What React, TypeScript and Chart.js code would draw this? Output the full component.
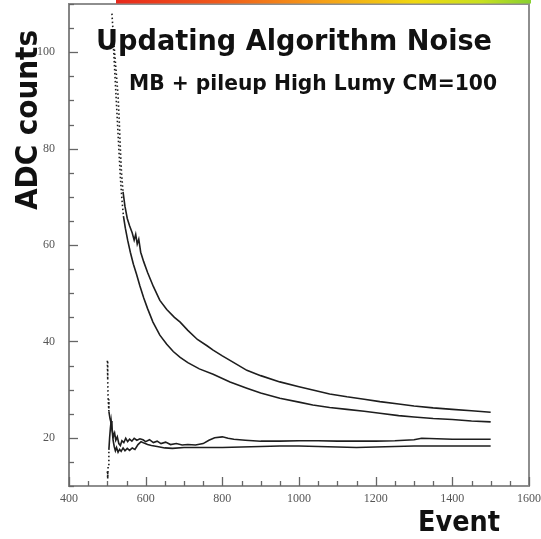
import React, { useEffect, useRef } from "react";
import { Chart, registerables } from "chart.js";

Chart.register(...registerables);

// ---- Data ----
const upperDecayX = [512, 516, 520, 524, 528, 531, 534, 537, 541, 546, 552, 558, 565, 570, 574, 578, 582, 587, 595, 605, 620, 637, 655, 675, 690, 710, 735, 760, 776, 800, 830, 864, 900, 950, 1000, 1036, 1080, 1125, 1170, 1211, 1260, 1300, 1350, 1400, 1450, 1500];
const upperDecayY = [108, 103, 99, 95, 91, 86, 80, 75, 71, 68, 65.5, 64, 62.5, 61, 62.2, 60.2, 61.2, 58.5, 56.5, 54.3, 51.4, 48.5, 46.6, 45, 44, 42.3, 40.4, 39.1, 38.2, 37, 35.6, 34, 32.9, 31.6, 30.6, 29.9, 29.1, 28.5, 28.0, 27.5, 27.0, 26.6, 26.2, 25.9, 25.6, 25.3];

const lowerDecayX = [514, 518, 522, 526, 530, 534, 538, 542, 547, 553, 560, 568, 576, 585, 595, 605, 619, 637, 655, 672, 690, 710, 740, 776, 820, 864, 900, 950, 1000, 1036, 1080, 1125, 1170, 1211, 1260, 1300, 1350, 1400, 1450, 1500];
const lowerDecayY = [104, 98, 92, 86, 80, 74, 69.5, 66, 63.5, 61, 58.5, 56, 54, 51.5, 49, 46.8, 44, 41.3, 39.4, 37.9, 36.7, 35.6, 34.3, 33.2, 31.6, 30.3, 29.3, 28.2, 27.4, 26.8, 26.3, 25.9, 25.5, 25.1, 24.6, 24.3, 24.0, 23.8, 23.5, 23.3];

const upperFlatX = [500, 501, 502, 504, 507, 510, 513, 516, 519, 522, 526, 530, 534, 538, 543, 548, 553, 558, 564, 570, 577, 585, 593, 600, 610, 620, 630, 640, 652, 665, 680, 695, 710, 730, 750, 765, 780, 800, 815, 830, 860, 900, 950, 1000, 1050, 1100, 1150, 1200, 1250, 1300, 1320, 1360, 1400, 1450, 1500];
const upperFlatY = [36, 32, 28, 25.5, 24, 23, 21.5, 20.3, 21, 19.5, 20.2, 18.8, 18.4, 19.4, 19.0, 19.9, 19.2, 19.7, 19.3, 19.9, 19.5, 19.8, 19.6, 19.2, 19.6, 19.0, 19.3, 18.8, 19.1, 18.6, 18.8, 18.5, 18.6, 18.5, 18.8, 19.5, 20.0, 20.2, 19.9, 19.7, 19.5, 19.3, 19.3, 19.4, 19.4, 19.3, 19.3, 19.3, 19.4, 19.6, 19.9, 19.8, 19.7, 19.7, 19.7];

const lowerFlatX = [500, 501, 502, 504, 506, 508, 510, 512, 515, 518, 521, 524, 528, 532, 536, 541, 546, 552, 558, 565, 572, 580, 588, 596, 605, 615, 630, 650, 670, 700, 750, 800, 850, 900, 950, 1000, 1050, 1100, 1150, 1200, 1250, 1300, 1400, 1500];
const lowerFlatY = [13, 11.5, 14, 17.5, 20, 22, 23.5, 22, 19.5, 18.2, 17.3, 18.0, 17.0, 17.6, 17.2, 17.9, 17.3, 17.8, 17.4, 17.9, 17.6, 18.6, 19.2, 18.9, 18.6, 18.4, 18.2, 17.9, 17.8, 18.0, 18.0, 18.0, 18.1, 18.2, 18.3, 18.3, 18.2, 18.1, 18.0, 18.1, 18.2, 18.3, 18.3, 18.3];

const xMajorLabels = [400, 600, 800, 1000, 1200, 1400, 1600];
const yMajorLabels = [20, 40, 60, 80, 100];

const titleText = "Updating Algorithm Noise";
const subtitleText = "MB + pileup High Lumy CM=100";
const yAxisTitle = "ADC counts";
const xAxisTitle = "Event";

const toPoints = (xs: number[], ys: number[]) => xs.map((x, i) => ({ x, y: ys[i] }));

const decorPlugin = {
  id: "decor",
  afterDraw(chart: any) {
    const { ctx, chartArea: a, scales } = chart;
    ctx.save();

    // top and right frame
    ctx.strokeStyle = "#8e8e8e";
    ctx.lineWidth = 2;
    ctx.beginPath();
    ctx.moveTo(a.left, a.top);
    ctx.lineTo(a.right, a.top);
    ctx.lineTo(a.right, a.bottom);
    ctx.stroke();

    // inward tick marks
    ctx.strokeStyle = "#666";
    ctx.lineWidth = 1.3;
    const xs = scales.x;
    xs.ticks.forEach((t: any) => {
      const px = Math.round(xs.getPixelForValue(t.value)) + 0.5;
      const len = xMajorLabels.includes(t.value) ? 9 : 5;
      ctx.beginPath();
      ctx.moveTo(px, a.bottom);
      ctx.lineTo(px, a.bottom - len);
      ctx.stroke();
    });
    const ys = scales.y;
    ys.ticks.forEach((t: any) => {
      const py = Math.round(ys.getPixelForValue(t.value)) + 0.5;
      const len = yMajorLabels.includes(t.value) ? 9 : 5;
      ctx.beginPath();
      ctx.moveTo(a.left, py);
      ctx.lineTo(a.left + len, py);
      ctx.stroke();
    });

    // gradient strip at the top
    const g = ctx.createLinearGradient(116, 0, 531, 0);
    g.addColorStop(0, "#e8281c");
    g.addColorStop(0.25, "#f05a1a");
    g.addColorStop(0.5, "#f5a018");
    g.addColorStop(0.72, "#f0d810");
    g.addColorStop(0.88, "#c8e020");
    g.addColorStop(1, "#88d030");
    ctx.fillStyle = g;
    ctx.fillRect(116, 0, 415, 3.5);

    // texts
    ctx.fillStyle = "#111";
    ctx.textBaseline = "alphabetic";
    ctx.textAlign = "left";
    ctx.font = 'bold 29px "DejaVu Sans"';
    ctx.fillText(titleText, 96, 50, 396);
    ctx.font = 'bold 22px "DejaVu Sans"';
    ctx.fillText(subtitleText, 129, 90, 368);
    ctx.font = 'bold 29px "DejaVu Sans"';
    ctx.fillText(xAxisTitle, 418, 531, 82);
    ctx.save();
    ctx.translate(37, 210);
    ctx.rotate(-Math.PI / 2);
    ctx.font = 'bold 31px "DejaVu Sans"';
    ctx.fillText(yAxisTitle, 0, 0, 180);
    ctx.restore();

    ctx.restore();
  },
};

export default function App() {
  const ref = useRef<HTMLCanvasElement | null>(null);

  useEffect(() => {
    if (!ref.current) return;
    const lineStyle = (dashUntil: number) => ({
      borderColor: "#1e1e1e",
      borderWidth: 1.6,
      pointRadius: 0,
      tension: 0,
      fill: false,
      segment: {
        borderDash: (c: any) => (c.p1.parsed.x <= dashUntil ? [1.5, 2.5] : undefined),
      },
    });
    const chart = new Chart(ref.current, {
      type: "line",
      data: {
        datasets: [
          { label: "upper decay", data: toPoints(upperDecayX, upperDecayY), ...lineStyle(541) },
          { label: "lower decay", data: toPoints(lowerDecayX, lowerDecayY), ...lineStyle(542) },
          { label: "upper flat", data: toPoints(upperFlatX, upperFlatY), ...lineStyle(504) },
          { label: "lower flat", data: toPoints(lowerFlatX, lowerFlatY), ...lineStyle(504) },
        ],
      },
      options: {
        responsive: false,
        animation: false,
        devicePixelRatio: 1,
        layout: { padding: { top: 4, right: 12, left: 0, bottom: 0 } },
        plugins: { legend: { display: false }, tooltip: { enabled: false }, title: { display: false } },
        scales: {
          x: {
            type: "linear",
            min: 400,
            max: 1600,
            grid: { display: false, drawTicks: false },
            border: { display: true, color: "#8e8e8e", width: 2 },
            ticks: {
              stepSize: 50,
              autoSkip: false,
              maxRotation: 0,
              padding: 6,
              color: "#555",
              font: { family: '"Liberation Serif"', size: 12 },
              callback: (v: any) => (xMajorLabels.includes(Number(v)) ? String(v) : ""),
            },
            afterFit: (s: any) => {
              s.height = 53;
              s.paddingLeft = 0;
              s.paddingRight = 0;
            },
          },
          y: {
            type: "linear",
            min: 10,
            max: 110,
            grid: { display: false, drawTicks: false },
            border: { display: true, color: "#858585", width: 2 },
            ticks: {
              stepSize: 5,
              autoSkip: false,
              padding: 14,
              color: "#555",
              font: { family: '"Liberation Serif"', size: 12 },
              callback: (v: any) => (yMajorLabels.includes(Number(v)) ? String(v) : ""),
            },
            afterFit: (s: any) => {
              s.width = 69;
              s.paddingTop = 0;
              s.paddingBottom = 0;
            },
          },
        },
      },
      plugins: [decorPlugin],
    });
    return () => chart.destroy();
  }, []);

  return (
    <div
      style={{
        position: "fixed",
        left: 0,
        top: 0,
        width: 541,
        height: 539,
        overflow: "hidden",
        background: "#fff",
      }}
    >
      <canvas ref={ref} width={541} height={539} style={{ display: "block" }} />
    </div>
  );
}
